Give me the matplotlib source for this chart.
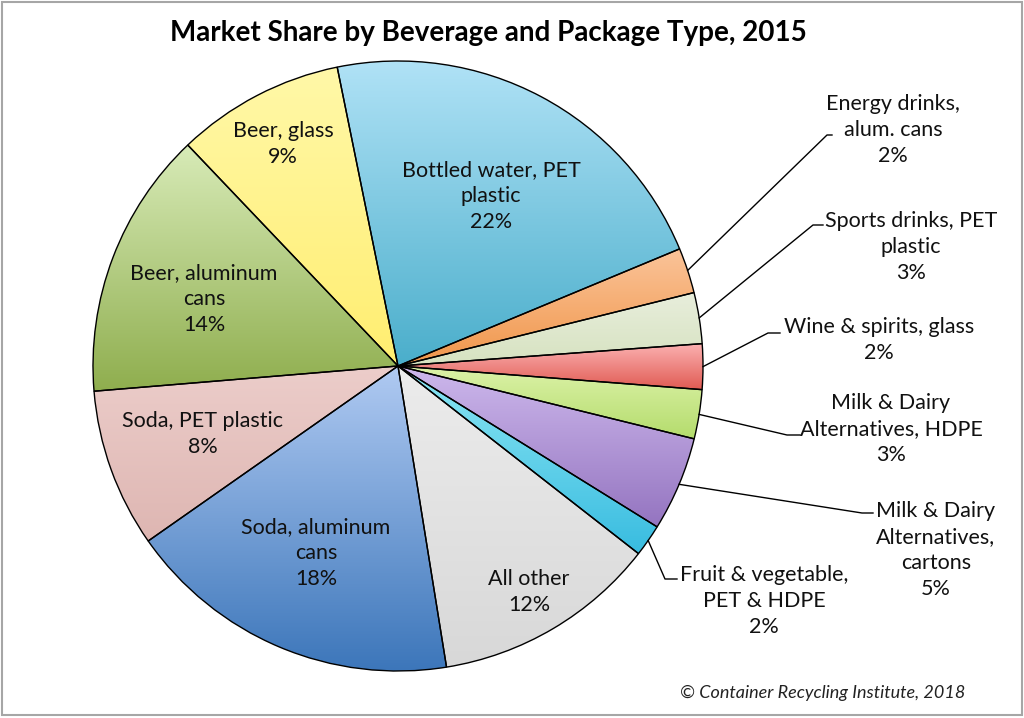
import numpy as np
import matplotlib
matplotlib.use("Agg")
import matplotlib.pyplot as plt
from matplotlib.colors import LinearSegmentedColormap
from matplotlib.patches import Rectangle

plt.rcParams['font.family'] = ['Lato', 'DejaVu Sans']

# slices, clockwise from the top
labels = ["Bottled water, PET\nplastic", "Energy drinks,\nalum. cans",
          "Sports drinks, PET\nplastic", "Wine & spirits, glass",
          "Milk & Dairy\nAlternatives, HDPE", "Milk & Dairy\nAlternatives,\ncartons",
          "Fruit & vegetable,\nPET & HDPE", "All other", "Soda, aluminum\ncans",
          "Soda, PET plastic", "Beer, aluminum\ncans", "Beer, glass"]
shares = [21.9, 2.4, 2.7, 2.4, 2.6, 5.0, 1.7, 11.9, 17.8, 8.4, 14.2, 8.9]
pct_text = ["22%", "2%", "3%", "2%", "3%", "5%", "2%", "12%", "18%", "8%", "14%", "9%"]

top_colors = ['#b0e2f6', '#fbc49a', '#e8eedc', '#fbb0b0', '#dcf2a8', '#cdb8ec',
              '#8ce6f4', '#ececec', '#b0caf2', '#eccdca', '#d8ebb8', '#fff8a8']
bottom_colors = ['#4aaecb', '#f0964a', '#d6e2c0', '#e05a52', '#b4dc6c', '#9474c0',
                 '#38bce0', '#d8d8d8', '#3c76ba', '#deb6b2', '#8fae4e', '#ffee70']

W, H = 1024, 718
CX, CY, R = 398, 366, 305


def px(x, y):
    # pixel position -> data units of the pie
    return ((x - CX) / R, (CY - y) / R)


# label centres in pixels
label_pos = [(491, 196), (893, 130), (911, 247), (879, 340), (891, 429), (936, 550),
             (764, 601), (529, 592), (316, 553), (203, 434), (204, 299), (283, 144)]
elbows = [None, ((827, 135), (832, 135)), ((813, 225), (823, 225)),
          ((768, 333), (780, 333)), ((787, 435), (800, 435)),
          ((862, 513), (873, 513)), ((665, 579), (677, 579)),
          None, None, None, None, None]

fig = plt.figure(figsize=(W / 100, H / 100), dpi=100)
ax = fig.add_axes([0, 0, 1, 1])

wedges, _ = ax.pie(shares, colors=top_colors, startangle=101.5, counterclock=False,
                   radius=1, wedgeprops=dict(edgecolor='black', linewidth=1.0))

grad = np.linspace(0, 1, 256).reshape(-1, 1)
for w, c1, c2 in zip(wedges, top_colors, bottom_colors):
    bb = w.get_path().get_extents()
    cmap = LinearSegmentedColormap.from_list('g', [c1, c2])
    im = ax.imshow(grad, extent=[bb.x0, bb.x1, bb.y0, bb.y1], origin='upper',
                   cmap=cmap, aspect='auto', zorder=1, interpolation='bilinear')
    im.set_clip_path(w)
    w.set_facecolor('none')
    w.set_zorder(2)

for i, w in enumerate(wedges):
    x, y = px(*label_pos[i])
    ax.text(x, y, labels[i] + "\n" + pct_text[i], ha='center', va='center',
            fontsize=15.5, color='#111111', linespacing=1.38, zorder=3)
    if elbows[i] is not None:
        ang = np.deg2rad((w.theta1 + w.theta2) / 2)
        pts = [(np.cos(ang), np.sin(ang)), px(*elbows[i][0]), px(*elbows[i][1])]
        xs, ys = zip(*pts)
        ax.plot(xs, ys, color='black', lw=1.0, zorder=3, clip_on=False)

ax.set_xlim(-CX / R, (W - CX) / R)
ax.set_ylim((CY - H) / R, CY / R)
ax.set_aspect('auto')
ax.axis('off')

fig.text(488 / W, 1 - 33 / H, "Market Share by Beverage and Package Type, 2015",
         ha='center', va='center', fontsize=20, fontweight='bold')
fig.text(823 / W, 1 - 693 / H, "\u00a9 Container Recycling Institute, 2018",
         ha='center', va='center', fontsize=13, style='italic', color='#222222')

fig.add_artist(Rectangle((1.5 / W, 3 / H), 1 - 3.5 / W, 1 - 5 / H,
                         transform=fig.transFigure, fill=False,
                         edgecolor='#a6a6a6', linewidth=1.5))

fig.savefig("out.png", dpi=100)
